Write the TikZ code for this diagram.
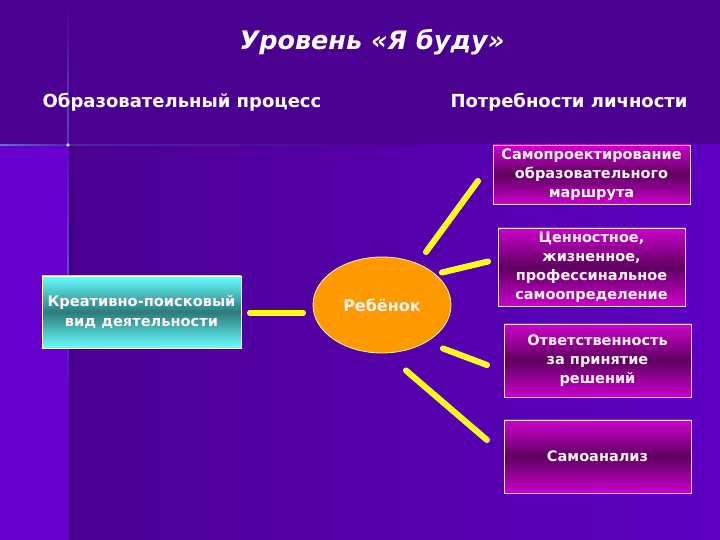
\documentclass[tikz,border=0pt]{standalone}
\usepackage{fontspec}
\setmainfont{DejaVu Sans}
\usepackage{tikz}
\usetikzlibrary{calc,positioning,shapes.geometric,backgrounds}
\definecolor{bandtop}{HTML}{4A0090}
\definecolor{bgleft}{HTML}{4B0092}
\definecolor{bgright}{HTML}{5D00C2}
\definecolor{strip}{HTML}{6600CC}
\definecolor{glow}{HTML}{5FC8FF}
\definecolor{sunny}{HTML}{FF9900}
\definecolor{rayyellow}{HTML}{FFFF00}
\definecolor{magtop}{HTML}{CC00CC}
\definecolor{magmid}{HTML}{5E0060}
\definecolor{cyantop}{HTML}{66FFFF}
\definecolor{cyanmid}{HTML}{2E7A7C}
\definecolor{txtwhite}{HTML}{FFF4F4}

\begin{document}
\begin{tikzpicture}[x=1pt,y=1pt,
    needbox/.style={draw=white!85!magenta, line width=0.8pt, rectangle,
        top color=magtop, bottom color=magtop, middle color=magmid,
        text=txtwhite, align=center, inner sep=2pt,
        font=\bfseries\fontsize{14.5}{19}\selectfont},
    actbox/.style={draw=white, line width=0.8pt, rectangle,
        top color=cyantop, bottom color=cyantop, middle color=cyanmid,
        text=txtwhite, align=center, inner sep=2pt,
        font=\bfseries\fontsize{14.6}{20}\selectfont},
    kidnode/.style={ellipse, fill=sunny, draw=yellow!40!white, line width=0.8pt,
        text=txtwhite, font=\bfseries\fontsize{16}{19}\selectfont},
    header/.style={text=white, font=\bfseries\fontsize{18}{21}\selectfont},
    ray/.style={line width=5pt, line cap=round, draw=rayyellow,
        preaction={draw=yellow!40!white, line width=6pt, line cap=round}}]

  %% background
  \useasboundingbox (0,0) rectangle (720,540);
  \fill[bandtop] (0,395) rectangle (720,540);
  \shade[left color=bgleft, right color=bgright] (70,0) rectangle (720,395);
  \fill[strip] (0,0) rectangle (69,395);
  \shade[left color=strip!60!black, right color=bgleft] (69,0) rectangle (76,395);
  %% glow cross
  \shade[top color=bandtop, bottom color=bandtop, middle color=glow!35!bandtop]
      (67.3,300) rectangle (68.7,540);
  \shade[top color=strip, bottom color=strip, middle color=glow!35!strip]
      (67.3,150) rectangle (68.7,395);
  \shade[left color=glow!60!bandtop, right color=bandtop!80!glow]
      (0,394.3) rectangle (68,395.7);
  \shade[left color=bandtop!80!glow, right color=bandtop]
      (68,394.3) rectangle (420,395.7);
  \fill[glow!50!white] (68,395) circle (1.8);

  %% titles
  \node[text=white, font=\bfseries\itshape\fontsize{25.5}{28}\selectfont]
      (title) at (372,498) {Уровень «Я буду»};
  \node[header] (hleft) at (182,438) {Образовательный процесс};
  \node[header] (hright) at (569,438) {Потребности личности};

  %% left side
  \node[actbox, minimum width=199pt, minimum height=72pt] (act) at (141.5,228)
      {Креативно-поисковый\\вид деятельности};
  \node[kidnode, minimum width=138pt, minimum height=96pt] (kid) at (382,235) {Ребёнок};

  %% right side
  \node[needbox, minimum width=197pt, minimum height=59pt] (need1) at (591.5,365.5)
      {Самопроектирование\\образовательного\\маршрута};
  \node[needbox, minimum width=187pt, minimum height=78pt] (need2) at (591.5,273)
      {Ценностное,\\жизненное,\\профессинальное\\самоопределение};
  \node[needbox, minimum width=187pt, minimum height=73pt] (need3) at (597.5,179.5)
      {Ответственность\\за принятие\\решений};
  \node[needbox, minimum width=187pt, minimum height=73pt] (need4) at (597.5,83.5)
      {Самоанализ};

  %% rays
  \coordinate (l1) at (250,227);
  \coordinate (l2) at (303,227);
  \coordinate (r1a) at (426,288);
  \coordinate (r1b) at (478,359);
  \coordinate (r2a) at (442,267.5);
  \coordinate (r2b) at (488,278.5);
  \coordinate (r3a) at (443,191.5);
  \coordinate (r3b) at (487,175);
  \coordinate (r4a) at (406,169.5);
  \coordinate (r4b) at (487,100);
  \draw[ray] (l1) -- (l2);
  \foreach \r in {r1,r2,r3,r4} {
    \draw[ray] (\r a) -- (\r b);
  }
\end{tikzpicture}
\end{document}
